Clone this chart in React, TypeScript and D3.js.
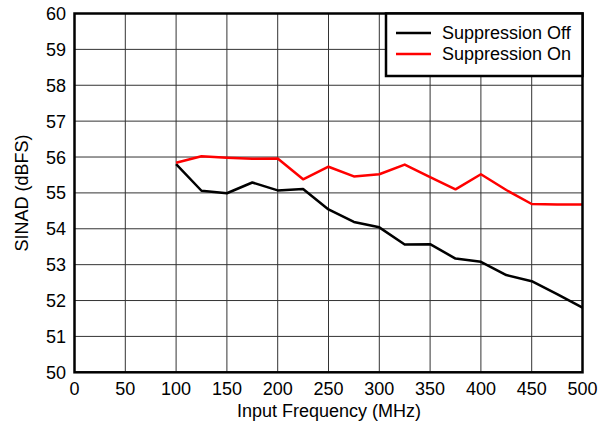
import React from "react";
import * as d3 from "d3";

const freqs = [100, 125, 150, 175, 200, 225, 250, 275, 300, 325, 350, 375, 400, 425, 450, 475, 500];
const suppressionOff = [55.80, 55.06, 54.99, 55.29, 55.07, 55.11, 54.54, 54.19, 54.04, 53.56, 53.57, 53.17, 53.08, 52.71, 52.54, 52.18, 51.80];
const suppressionOn = [55.84, 56.02, 55.98, 55.95, 55.96, 55.38, 55.73, 55.46, 55.52, 55.79, 55.44, 55.10, 55.52, 55.08, 54.69, 54.68, 54.68];
const xTicks = [0, 50, 100, 150, 200, 250, 300, 350, 400, 450, 500];
const yTicks = [50, 51, 52, 53, 54, 55, 56, 57, 58, 59, 60];
const seriesNames = ["Suppression Off", "Suppression On"];
const seriesColors = ["#000000", "#ff0000"];

export default function App() {
  const W = 607, H = 425;
  const left = 74.5, right = 582.5, top = 13.5, bottom = 372.3;
  const x = d3.scaleLinear().domain([0, 500]).range([left, right]);
  const y = d3.scaleLinear().domain([50, 60]).range([bottom, top]);
  const line = d3.line<number>().x((_, i) => x(freqs[i])).y((d) => y(d));
  const series = [suppressionOff, suppressionOn];
  const font = "'Liberation Sans', Arial, sans-serif";
  const fs = 18;

  return (
    <svg width={W} height={H} style={{ position: "absolute", left: 0, top: 0, background: "#fff" }}>
      <rect x={0} y={0} width={W} height={H} fill="#fff" />
      {xTicks.map((t) => (
        <line key={"gx" + t} x1={x(t)} x2={x(t)} y1={top} y2={bottom} stroke="#333" strokeWidth={1} />
      ))}
      {yTicks.map((t) => (
        <line key={"gy" + t} x1={left} x2={right} y1={y(t)} y2={y(t)} stroke="#333" strokeWidth={1} />
      ))}
      {series.map((s, i) => (
        <path key={"s" + i} d={line(s) || ""} fill="none" stroke={seriesColors[i]} strokeWidth={2.5} strokeLinejoin="round" />
      ))}
      <rect x={left} y={top} width={right - left} height={bottom - top} fill="none" stroke="#000" strokeWidth={2.5} />
      {yTicks.map((t) => (
        <text key={"ty" + t} x={66} y={y(t)} dy="0.36em" textAnchor="end" fontFamily={font} fontSize={fs} fill="#000">
          {t}
        </text>
      ))}
      {xTicks.map((t) => (
        <text key={"tx" + t} x={x(t)} y={395} textAnchor="middle" fontFamily={font} fontSize={fs} fill="#000">
          {t}
        </text>
      ))}
      <text x={329} y={417} textAnchor="middle" fontFamily={font} fontSize={fs} fill="#000">
        Input Frequency (MHz)
      </text>
      <text transform={`translate(28,${(top + bottom) / 2}) rotate(-90)`} textAnchor="middle" fontFamily={font} fontSize={fs} fill="#000">
        SINAD (dBFS)
      </text>
      <rect x={386} y={13.5} width={196.5} height={62.5} fill="#fff" stroke="#000" strokeWidth={2.5} />
      {seriesNames.map((n, i) => (
        <g key={"lg" + i}>
          <line x1={396} x2={431} y1={33 + i * 21} y2={33 + i * 21} stroke={seriesColors[i]} strokeWidth={2.5} />
          <text x={442} y={33 + i * 21} dy="0.36em" fontFamily={font} fontSize={fs} fill="#000">
            {n}
          </text>
        </g>
      ))}
    </svg>
  );
}
